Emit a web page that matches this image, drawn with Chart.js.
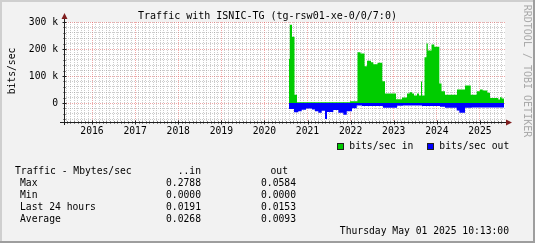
<!DOCTYPE html>
<html>
<head>
<meta charset="utf-8">
<script src="https://cdn.jsdelivr.net/npm/chart.js@4/dist/chart.umd.min.js"></script>
<style>
  body { margin: 0; background: #f2f2f2; }
  #wrap { position: relative; width: 535px; height: 243px; overflow: hidden; }
  #chart { position: absolute; left: 0; top: 0; }
  .t { position: absolute; font: 9.7px 'DejaVu Sans Mono', monospace; line-height: 12px; white-space: pre; color: #000; }
  .box { position: absolute; width: 5px; height: 5px; border: 1px solid #1f1f1f; }
</style>
</head>
<body>
<div id="wrap">
  <canvas id="chart" width="535" height="243"></canvas>
  <div class="t" style="left:0;width:535px;text-align:center;top:9.5px;font-size:10px">Traffic with ISNIC-TG (tg-rsw01-xe-0/0/7:0)</div>
  <div class="t" style="left:-18.5px;width:60px;text-align:center;top:65px;transform:rotate(-90deg)">bits/sec</div>
  <div class="t" style="left:457px;width:140px;text-align:center;top:65px;transform:rotate(90deg);color:#aaaaaa;font-size:10px">RRDTOOL / TOBI OETIKER</div>
  <div class="box" style="left:337px;top:143px;background:#00cc00"></div>
  <div class="t" style="left:349.3px;top:140.4px">bits/sec in</div>
  <div class="box" style="left:427px;top:143px;background:#0000ff"></div>
  <div class="t" style="left:439.3px;top:140.4px">bits/sec out</div>
  <div id="stats"></div>
  <div class="t" style="right:26px;top:225px">Thursday May 01 2025 10:13:00</div>
</div>
<script>
// start of each step (decimal year on the plot axis), last entry closes the series
const inYears = [2020.571, 2020.589, 2020.640, 2020.698, 2020.756, 2021.986, 2022.160, 2022.230, 2022.323,
  2022.381, 2022.473, 2022.527, 2022.624, 2022.735, 2022.798, 2023.053, 2023.193, 2023.309, 2023.367,
  2023.425, 2023.471, 2023.541, 2023.587, 2023.633, 2023.657, 2023.715, 2023.761, 2023.791, 2023.877,
  2023.942, 2024.058, 2024.109, 2024.190, 2024.469, 2024.654, 2024.787, 2024.926, 2025.002, 2025.065,
  2025.172, 2025.234, 2025.427, 2025.466, 2025.506, 2025.559];
const inBits = [163000, 290000, 245000, 31000, 3500, 7000, 188000, 183000, 136000,
  157000, 151000, 144000, 149000, 81000, 35000, 14000, 21000, 35000, 40000,
  35000, 28000, 35000, 28000, 80000, 28000, 170000, 220000, 195000, 217000,
  208000, 72000, 44000, 31000, 50000, 65000, 31000, 44000, 50000, 47000,
  38000, 19000, 13000, 22000, 17000, 17000];

const outYears = [2020.571, 2020.687, 2020.787, 2020.865, 2020.965, 2021.104, 2021.174, 2021.251, 2021.329,
  2021.406, 2021.452, 2021.599, 2021.715, 2021.831, 2021.910, 2022.032, 2022.142, 2022.265, 2022.752,
  2023.077, 2023.216, 2023.657, 2024.074, 2024.190, 2024.462, 2024.522, 2024.654, 2024.810, 2025.559];
const outBits = [-22000, -34000, -30000, -25000, -20000, -24000, -30000, -36000, -28000,
  -59000, -33000, -26000, -36000, -43000, -30000, -19000, -9000, -11000, -17000,
  -10000, -9000, -11000, -14000, -17000, -27000, -36000, -17000, -16000, -16000];

// summary table under the graph
const statLabels = ['Max', 'Min', 'Last 24 hours', 'Average'];
const statIn = ['0.2788', '0.0000', '0.0191', '0.0268'];
const statOut = ['0.0584', '0.0000', '0.0153', '0.0093'];

const xMin = 2015.35, xMax = 2025.582;
const yMin = -70000, yMax = 300000;

const MINOR = 'rgba(143,143,143,0.45)';
const MAJOR = 'rgba(222,79,79,0.5)';
const FONT = { family: 'DejaVu Sans Mono', size: 9.7 };

// stats text
const stats = document.getElementById('stats');
function addText(txt, style) {
  const d = document.createElement('div');
  d.className = 't';
  d.style.cssText = style;
  d.textContent = txt;
  stats.appendChild(d);
}
addText('Traffic - Mbytes/sec', 'left:15px;top:165.4px');
addText('..in', 'right:334px;top:165.4px');
addText('out', 'right:247px;top:165.4px');
const rowTops = [177, 188.7, 201, 213];
statLabels.forEach((lab, i) => {
  addText(lab, `left:20px;top:${rowTops[i]}px`);
  addText(statIn[i], `right:334px;top:${rowTops[i]}px`);
  addText(statOut[i], `right:239px;top:${rowTops[i]}px`);
});

const isYear = v => Math.abs(v - Math.round(v)) < 1e-6;

// background, shade frame, axes and arrows like rrdtool
const rrdFrame = {
  id: 'rrdFrame',
  beforeDraw(chart) {
    const { ctx, chartArea: a, width, height } = chart;
    ctx.save();
    ctx.fillStyle = '#f2f2f2';
    ctx.fillRect(0, 0, width, height);
    ctx.fillStyle = '#ffffff';
    ctx.fillRect(a.left, a.top, a.right - a.left, a.bottom - a.top);
    ctx.fillStyle = '#cfcfcf';
    ctx.fillRect(0, 0, width, 2);
    ctx.fillRect(0, 0, 2, height);
    ctx.fillStyle = '#9e9e9e';
    ctx.fillRect(0, height - 2, width, 2);
    ctx.fillRect(width - 2, 0, 2, height);
    ctx.restore();
  },
  afterDraw(chart) {
    const { ctx, chartArea: a, scales } = chart;
    const ax = a.left + 0.5, ay = a.bottom + 0.5;
    ctx.save();
    ctx.strokeStyle = '#1f1f1f';
    ctx.lineWidth = 1;
    ctx.beginPath();
    ctx.moveTo(a.left - 4, ay); ctx.lineTo(a.right + 3, ay);
    ctx.moveTo(ax, a.bottom + 3); ctx.lineTo(ax, a.top - 5);
    scales.x.ticks.forEach(t => {
      const px = Math.round(scales.x.getPixelForValue(t.value)) + 0.5;
      const len = isYear(t.value) ? 2 : 1;
      ctx.moveTo(px, ay - len); ctx.lineTo(px, ay + len);
    });
    scales.y.ticks.forEach(t => {
      const py = Math.round(scales.y.getPixelForValue(t.value)) + 0.5;
      const len = t.value % 100000 === 0 ? 2 : 1;
      ctx.moveTo(ax - len, py); ctx.lineTo(ax + len, py);
    });
    ctx.stroke();
    ctx.fillStyle = '#801f1f';
    ctx.beginPath();
    ctx.moveTo(ax, a.top - 9); ctx.lineTo(ax - 3, a.top - 3); ctx.lineTo(ax + 3, a.top - 3);
    ctx.closePath();
    ctx.moveTo(a.right + 7, ay); ctx.lineTo(a.right + 1, ay - 3); ctx.lineTo(a.right + 1, ay + 3);
    ctx.closePath();
    ctx.fill();
    ctx.restore();
  }
};

const ctx = document.getElementById('chart').getContext('2d');
new Chart(ctx, {
  type: 'line',
  data: {
    datasets: [
      {
        label: 'bits/sec in',
        data: inYears.map((x, i) => ({ x, y: inBits[i] })),
        stepped: 'before', fill: 'origin',
        backgroundColor: '#00cc00', borderColor: 'rgba(0,0,0,0)', borderWidth: 0, pointRadius: 0
      },
      {
        label: 'bits/sec out',
        data: outYears.map((x, i) => ({ x, y: outBits[i] })),
        stepped: 'before', fill: 'origin',
        backgroundColor: '#0000ff', borderColor: 'rgba(0,0,0,0)', borderWidth: 0, pointRadius: 0
      }
    ]
  },
  options: {
    responsive: false,
    animation: false,
    layout: { padding: { left: 0, top: 22, right: 30, bottom: 0 } },
    plugins: { legend: { display: false }, tooltip: { enabled: false } },
    scales: {
      x: {
        type: 'linear', min: xMin, max: xMax,
        afterBuildTicks: scale => {
          const ticks = [];
          for (let m = Math.ceil(scale.min * 12); m <= Math.floor(scale.max * 12); m++) ticks.push({ value: m / 12 });
          scale.ticks = ticks;
        },
        afterFit: scale => { scale.height = 121; },
        ticks: {
          autoSkip: false, maxRotation: 0, minRotation: 0, padding: 4,
          font: FONT, color: '#000',
          callback: v => isYear(v) ? String(Math.round(v)) : ''
        },
        grid: { drawTicks: false, color: c => isYear(c.tick.value) ? MAJOR : MINOR },
        border: { display: false, dash: [1, 1] }
      },
      y: {
        min: yMin, max: yMax,
        afterBuildTicks: scale => {
          const ticks = [];
          for (let v = Math.ceil(scale.min / 20000) * 20000; v <= scale.max; v += 20000) ticks.push({ value: v });
          scale.ticks = ticks;
        },
        afterFit: scale => { scale.width = 64; },
        ticks: {
          autoSkip: false, padding: 6, font: FONT, color: '#000',
          callback: v => v % 100000 !== 0 ? '' : (v === 0 ? '0' : (v / 1000) + ' k')
        },
        grid: { drawTicks: false, color: c => c.tick.value % 100000 === 0 ? MAJOR : MINOR },
        border: { display: false, dash: [1, 1] }
      }
    }
  },
  plugins: [rrdFrame]
});
</script>
</body>
</html>
